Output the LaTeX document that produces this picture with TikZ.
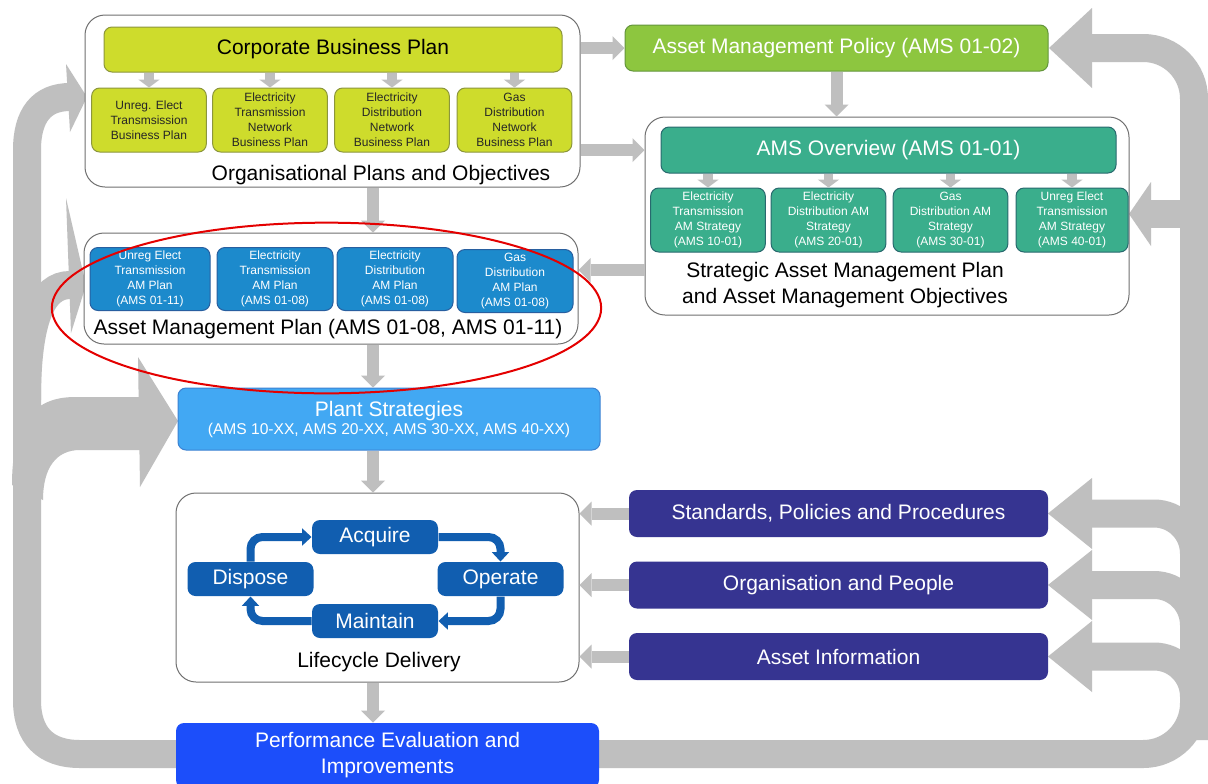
\documentclass[tikz,border=0pt]{standalone}
\usepackage{fontspec}
\setmainfont{Liberation Sans}
\usetikzlibrary{arrows.meta}

\definecolor{cbpgreen}{RGB}{206,220,44}
\definecolor{cbpedge}{RGB}{140,150,60}
\definecolor{policygreen}{RGB}{141,198,63}
\definecolor{policyedge}{RGB}{100,150,60}
\definecolor{amsteal}{RGB}{58,174,140}
\definecolor{amsedge}{RGB}{40,105,110}
\definecolor{planblue}{RGB}{28,138,204}
\definecolor{planedge}{RGB}{40,95,160}
\definecolor{plantblue}{RGB}{66,168,243}
\definecolor{plantedge}{RGB}{60,130,210}
\definecolor{lifeblue}{RGB}{17,94,176}
\definecolor{perfblue}{RGB}{28,78,250}
\definecolor{enablerpurple}{RGB}{54,52,145}
\definecolor{loopgrey}{RGB}{191,191,191}
\definecolor{framegrey}{RGB}{112,112,112}
\definecolor{ringred}{RGB}{228,0,0}

\begin{document}
\begin{tikzpicture}[x=0.75pt,y=0.75pt,yscale=-1,xscale=1,
  bigtext/.style={font=\fontsize{15.75}{19.5}\selectfont},
  smalltext/.style={font=\fontsize{9}{11.2}\selectfont},
  panel/.style={draw=framegrey,line width=0.75pt,rounded corners=15pt,fill=white,inner sep=0pt},
  block/.style={rounded corners=6pt,inner sep=0pt,align=center,line width=0.75pt},
  bizplan/.style={block,fill=cbpgreen,draw=cbpedge,minimum width=86pt,minimum height=48pt,smalltext,text=black!85},
  amstrat/.style={block,fill=amsteal,draw=amsedge,minimum width=86pt,minimum height=48pt,smalltext,text=white},
  amplan/.style={block,fill=planblue,draw=planedge,minimum width=87pt,minimum height=47.25pt,smalltext,text=white},
  lifestep/.style={block,fill=lifeblue,minimum width=94.5pt,minimum height=25.5pt,bigtext,text=white},
  enabler/.style={block,fill=enablerpurple,minimum width=314.25pt,minimum height=35.25pt,bigtext,text=white},
  link/.style={draw=loopgrey,line width=9pt,-{Triangle[width=18pt,length=9pt,line width=0pt]}},
  sublink/.style={draw=loopgrey,line width=7pt,-{Triangle[width=16pt,length=6pt,line width=0pt]}},
  lifearrow/.style={draw=lifeblue,line width=6pt,rounded corners=9pt,-{Triangle[width=13pt,length=7pt,line width=0pt]}},
  band/.style={draw=loopgrey,line width=21pt},
]
\useasboundingbox[fill=white] (0,0) rectangle (1208,783);

%Curve Lines: feedback loop, left side
\draw[band] (180,754) -- (80,754) .. controls (45,754) and (27,735) .. (27,700) -- (27,150) .. controls (27,115) and (42,97) .. (70,97);
\draw[band] (27,400) .. controls (27,320) and (42,285) .. (70,285);
\fill[loopgrey] (12,485) .. controls (12,425) and (32,397) .. (75,397) -- (142,397) -- (142,450) -- (80,450) .. controls (56,450) and (43,468) .. (43,500) -- cycle;
\fill[loopgrey] (66,64) -- (87,97) -- (70,132) -- cycle;
\fill[loopgrey] (66,198) -- (86,285) -- (71,333) -- cycle;
\fill[loopgrey] (138,357) -- (178,421) -- (140,487) -- cycle;

%Curve Lines: feedback loop, right side
\draw[band,rounded corners=38pt] (590,754) -- (1194,754) -- (1194,48) -- (1088,48);
\draw[band] (1194,214) -- (1148,214);
\draw[band,rounded corners=30pt] (1088,513.5) -- (1194,513.5) -- (1194,600);
\draw[band,rounded corners=30pt] (1088,585) -- (1194,585) -- (1194,670);
\draw[band,rounded corners=30pt] (1088,656.5) -- (1194,656.5) -- (1194,740);
\fill[loopgrey] (1092,8) -- (1049,48) -- (1092,88) -- cycle;
\fill[loopgrey] (1151,182) -- (1129,214) -- (1151,246) -- cycle;
\fill[loopgrey] (1092,478) -- (1048,513.5) -- (1092,549) -- cycle;
\fill[loopgrey] (1092,550) -- (1048,585) -- (1092,620) -- cycle;
\fill[loopgrey] (1092,621) -- (1048,656.5) -- (1092,692) -- cycle;

%Shape: Organisational plans
\node[panel,minimum width=371.25pt,minimum height=129pt] (org) at (332.5,101) {};
\node[block,fill=cbpgreen,draw=cbpedge,minimum width=343.5pt,minimum height=33.75pt,bigtext] (cbp) at (333,49.5) {Corporate Business Plan};
\node[bizplan] (bpu) at (149,120) {Unreg. Elect\\Transmsission\\Business Plan};
\node[bizplan] (bpt) at (270,120) {Electricity\\Transmission\\Network\\Business Plan};
\node[bizplan] (bpd) at (392,120) {Electricity\\Distribution\\Network\\Business Plan};
\node[bizplan] (bpg) at (514.5,120) {Gas\\Distribution\\Network\\Business Plan};
% Text Node
\node[bigtext] (orgtitle) at (381,175) {Organisational Plans and Objectives};

%Shape: Policy
\node[block,fill=policygreen,draw=policyedge,minimum width=317.25pt,minimum height=34.5pt,bigtext,text=white] (policy) at (836.5,48) {Asset Management Policy (AMS 01-02)};

%Shape: Strategic plan
\node[panel,minimum width=363pt,minimum height=148.5pt] (sam) at (887,216) {};
\node[block,fill=amsteal,draw=amsedge,minimum width=341.25pt,minimum height=34.5pt,bigtext,text=white] (amsov) at (888.5,150) {AMS Overview (AMS 01-01)};
\node[amstrat] (ste) at (708,220) {Electricity\\Transmission\\AM Strategy\\(AMS 10-01)};
\node[amstrat] (std) at (828.5,220) {Electricity\\Distribution AM\\Strategy\\(AMS 20-01)};
\node[amstrat] (stg) at (950.5,220) {Gas\\Distribution AM\\Strategy\\(AMS 30-01)};
\node[amstrat,minimum width=84pt] (stu) at (1072,220) {Unreg Elect\\Transmission\\AM Strategy\\(AMS 40-01)};
% Text Node
\node[bigtext,align=center] (samtitle) at (845,285.5) {Strategic Asset Management Plan\\and Asset Management Objectives};

%Shape: Asset management plan
\node[panel,minimum width=370.5pt,minimum height=83.25pt] (amp) at (331,288.5) {};
\node[amplan,minimum width=90pt] (apu) at (150,279) {Unreg Elect\\Transmission\\AM Plan\\(AMS 01-11)};
\node[amplan] (apt) at (275,279) {Electricity\\Transmission\\AM Plan\\(AMS 01-08)};
\node[amplan] (apd) at (395,279) {Electricity\\Distribution\\AM Plan\\(AMS 01-08)};
\node[amplan] (apg) at (515,281) {Gas\\Distribution\\AM Plan\\(AMS 01-08)};
% Text Node
\node[bigtext] (amptitle) at (328,329) {Asset Management Plan (AMS 01-08, AMS 01-11)};

%Shape: Plant strategies
\node[block,fill=plantblue,draw=plantedge,minimum width=316.5pt,minimum height=46.5pt,text=white,font=\fontsize{15.75}{13.5}\selectfont] (plant) at (389,419) {Plant Strategies\\{\fontsize{11.7}{13.5}\selectfont (AMS 10-XX, AMS 20-XX, AMS 30-XX, AMS 40-XX)}};

%Shape: Lifecycle delivery
\node[panel,minimum width=302.25pt,minimum height=141.75pt] (life) at (377.5,587.5) {};
\node[lifestep] (acq) at (375,537) {Acquire};
\node[lifestep] (dis) at (250.5,579) {Dispose};
\node[lifestep] (ope) at (500.5,579) {Operate};
\node[lifestep] (mai) at (375,621) {Maintain};
% Text Node
\node[bigtext] (lifetitle) at (379,662) {Lifecycle Delivery};

%Shape: Performance evaluation
\node[block,fill=perfblue,minimum width=317.25pt,minimum height=48.75pt,bigtext,text=white] (perf) at (387.5,755.5) {Performance Evaluation and\\Improvements};

%Shape: Enablers
\node[enabler] (spp) at (838.5,513.5) {Standards, Policies and Procedures};
\node[enabler] (orp) at (838.5,585) {Organisation and People};
\node[enabler] (asi) at (838.5,656.5) {Asset Information};

%Straight Lines
\coordinate (spine) at (373,0);
\coordinate (samfeed) at (645,270);
\draw[link] (org.east |- policy) -- (policy.west);
\draw[link] (org.east |- amsov) -- (sam.west |- amsov);
\draw[link] (policy.south) -- (policy.south |- sam.north);
\draw[link] (samfeed) -- (amp.east |- samfeed);
\draw[link] (org.south -| spine) -- (amp.north -| spine);
\draw[link] (amp.south -| spine) -- (plant.north -| spine);
\draw[link] (plant.south -| spine) -- (life.north -| spine);
\draw[link] (life.south -| spine) -- (perf.north -| spine);
\draw[link] (spp.west) -- (life.east |- spp);
\draw[link] (orp.west) -- (life.east |- orp);
\draw[link] (asi.west) -- (life.east |- asi);

\draw[sublink] (cbp.south -| bpu) -- (bpu.north);
\draw[sublink] (cbp.south -| bpt) -- (bpt.north);
\draw[sublink] (cbp.south -| bpd) -- (bpd.north);
\draw[sublink] (cbp.south -| bpg) -- (bpg.north);
\draw[sublink] (amsov.south -| ste) -- (ste.north);
\draw[sublink] (amsov.south -| std) -- (std.north);
\draw[sublink] (amsov.south -| stg) -- (stg.north);
\draw[sublink] (amsov.south -| stu) -- (stu.north);

%Curve Lines: lifecycle
\draw[lifearrow] (dis.north) |- (acq.west);
\draw[lifearrow] (acq.east) -| (ope.north);
\draw[lifearrow] (ope.south) |- (mai.east);
\draw[lifearrow] (mai.west) -| (dis.south);

%Shape: Ellipse
\draw[ringred,line width=1.5pt] (326.5,308) ellipse [x radius=206pt,y radius=64pt];

\end{tikzpicture}
\end{document}
